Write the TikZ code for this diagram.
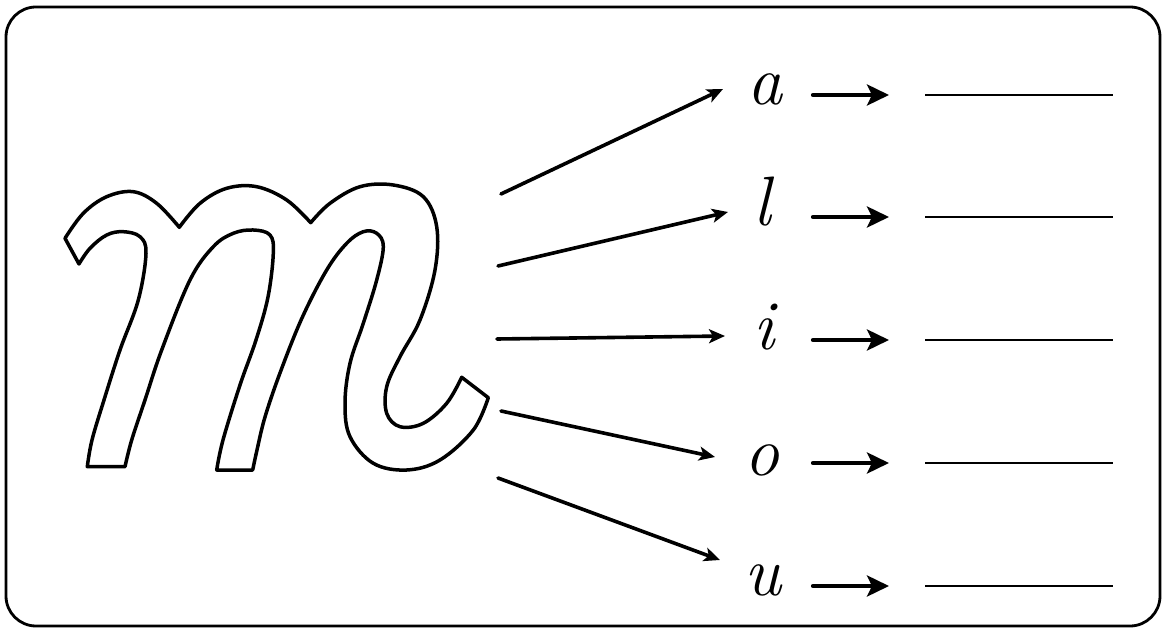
\documentclass[tikz,border=0pt]{standalone}
\usetikzlibrary{arrows.meta}
\begin{document}
\begin{tikzpicture}[x=1pt,y=-1pt,
  frame/.style={line width=2.8pt,rounded corners=30pt},
  glyph/.style={line width=3.5pt,line join=round},
  longarr/.style={line width=3.6pt,line cap=round,-{Stealth[length=16pt,width=14pt,inset=4pt]}},
  shortarr/.style={line width=4.2pt,line cap=round,-{Stealth[length=22pt,width=21pt,inset=5pt]}},
  blank/.style={line width=2.2pt},
  letter/.style={anchor=base,inner sep=0pt,font=\fontsize{70}{70}\selectfont\itshape}]
\useasboundingbox (0,0) rectangle (1165,628);
\draw[frame] (6,7) rectangle (1160,626);
% big outlined m
\draw[glyph]
  plot[smooth,tension=0.6] coordinates {(65,238.3) (83.3,213.3) (106.7,196.7) (133.3,191.7) (156.7,203.3) (179.3,227.3)}
  -- plot[smooth,tension=0.6] coordinates {(179.3,227.3) (200,203.3) (226.7,188.3) (256.7,186.7) (286.7,200) (310.7,222.7)}
  -- plot[smooth,tension=0.6] coordinates {(310.7,222.7) (330,203.3) (360,186.7) (393.3,185) (423.3,196.7) (436.7,226.7) (435,270) (420,320) (400,356.7) (386.7,386.7) (386.7,413.3) (400,426.7) (423.3,423.3) (446.7,403.3) (461.7,377.3)}
  -- plot[smooth,tension=0.6] coordinates {(488.3,397.7) (473.3,430) (440,460) (406.7,470) (373.3,463.3) (350,436.7) (345,403.3) (350,363.3) (363.3,323.3) (376.7,280) (383.3,246.7) (376.7,233.3) (363.3,231.7) (346.7,243.3) (326.7,270) (302,318) (280,373) (265,417) (257,450) (252.7,470)}
  -- plot[smooth,tension=0.6] coordinates {(216.7,470) (223,440) (240,385) (256,340) (268,297) (273.3,253.3) (270,235) (253.3,230) (233.3,233.3) (213.3,246.7) (190,280) (161.7,350) (145,400) (131.7,440) (125,466.7)}
  -- plot[smooth,tension=0.6] coordinates {(87.3,466.7) (92,440) (104,400) (120,350) (138.3,300) (146,253.3) (140,236.7) (123.3,231.7) (106.7,235) (90,248.3) (79,264)}
  -- cycle;
% letters
\node[letter] (la) at (765,105) {a};
\node[letter] (ll) at (762,226) {l};
\node[letter] (li) at (764,350) {i};
\node[letter] (lo) at (762,475) {o};
\node[letter] (lu) at (763,595) {u};
% start and tip points of long arrows
\coordinate (s1) at (501,194); \coordinate (e1) at (723,89);
\coordinate (s2) at (498,266); \coordinate (e2) at (728,212);
\coordinate (s3) at (497,339); \coordinate (e3) at (725,336);
\coordinate (s4) at (501,411); \coordinate (e4) at (715,457);
\coordinate (s5) at (498,478); \coordinate (e5) at (720,560);
\draw[longarr] (s1) -- (e1);
\draw[longarr] (s2) -- (e2);
\draw[longarr] (s3) -- (e3);
\draw[longarr] (s4) -- (e4);
\draw[longarr] (s5) -- (e5);
% short arrows and blank lines
\foreach \n/\y in {1/95,2/217,3/340,4/463,5/586}{
  \coordinate (a\n) at (813,\y); \coordinate (b\n) at (889,\y);
  \coordinate (c\n) at (925,\y); \coordinate (d\n) at (1113,\y);
  \draw[shortarr] (a\n) -- (b\n);
  \draw[blank] (c\n) -- (d\n);
}
\end{tikzpicture}
\end{document}
